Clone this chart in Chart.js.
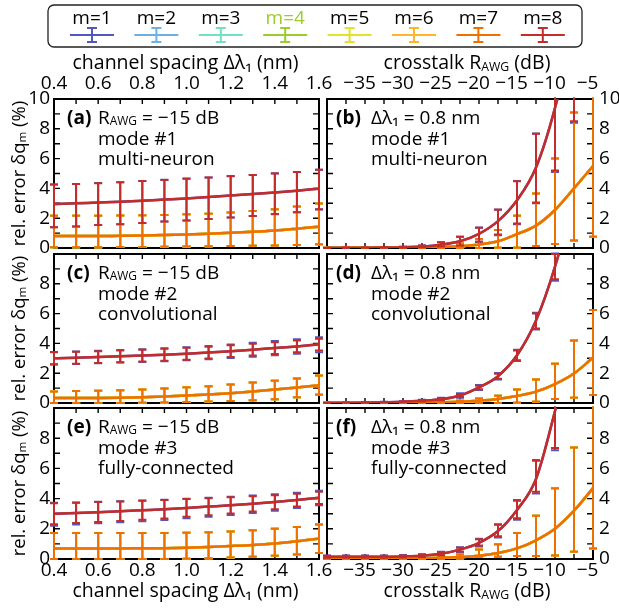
<!DOCTYPE html>
<html>
<head>
<meta charset="utf-8">
<script src="https://cdn.jsdelivr.net/npm/chart.js@4.4.1/dist/chart.umd.min.js"></script>
<style>
  html, body { margin: 0; padding: 0; background: #fff; }
  #wrap { position: relative; width: 619px; height: 608px; }
  #wrap canvas { position: absolute; left: 0; top: 0; }
</style>
</head>
<body>
<div id="wrap">
  <canvas id="pa" width="619" height="608"></canvas>
  <canvas id="pb" width="619" height="608"></canvas>
  <canvas id="pc" width="619" height="608"></canvas>
  <canvas id="pd" width="619" height="608"></canvas>
  <canvas id="pe" width="619" height="608"></canvas>
  <canvas id="pf" width="619" height="608"></canvas>
</div>
<script>
const seriesLabels = ['m=1', 'm=2', 'm=3', 'm=4', 'm=5', 'm=6', 'm=7', 'm=8'];
const seriesColors = ['#5257c0', '#6fb0e4', '#72e0c2', '#9ccc2c', '#e2e22a', '#ffb42c', '#ee7000', '#c42c2a'];

const spacingNm = [0.4, 0.5, 0.6, 0.7, 0.8, 0.9, 1.0, 1.1, 1.2, 1.3, 1.4, 1.5, 1.6];
const crosstalkDb = [-40, -37.5, -35, -32.5, -30, -27.5, -25, -22.5, -20, -17.5, -15, -12.5, -10, -7.5, -5];

// (a) mode #1, vs channel spacing. "edge" = m=1 & m=8, "inner" = m=2..7
const aEdge    = [2.95, 3.0, 3.05, 3.1, 3.17, 3.25, 3.33, 3.42, 3.52, 3.62, 3.73, 3.85, 3.98];
const aEdgeHi  = [4.27, 4.3, 4.35, 4.42, 4.5, 4.57, 4.65, 4.73, 4.82, 4.9, 5.0, 5.1, 5.25];
const aEdgeLo  = [1.4, 1.45, 1.55, 1.6, 1.68, 1.78, 1.85, 1.95, 2.05, 2.15, 2.28, 2.4, 2.6];
const aEdgeHi1 = [4.27, 4.3, 4.36, 4.42, 4.5, 4.58, 4.66, 4.73, 4.83, 4.9, 5.01, 5.1, 5.26];
const aEdgeLo1 = [1.39, 1.45, 1.54, 1.6, 1.67, 1.78, 1.84, 1.95, 2.04, 2.15, 2.27, 2.4, 2.59];
const aInner   = [0.8, 0.8, 0.8, 0.82, 0.84, 0.87, 0.91, 0.96, 1.02, 1.09, 1.18, 1.3, 1.43];
const aInnerHi = [2.17, 2.17, 2.17, 2.18, 2.2, 2.22, 2.26, 2.3, 2.38, 2.48, 2.6, 2.78, 2.98];
const aInnerLo = [0.05, 0.05, 0.05, 0.06, 0.07, 0.08, 0.1, 0.12, 0.13, 0.15, 0.17, 0.2, 0.25];

// (b) mode #1, vs crosstalk
const bEdge    = [0.01, 0.015, 0.02, 0.03, 0.05, 0.1, 0.22, 0.45, 0.95, 1.8, 3.2, 5.4, 9.4, 15, 24];
const bEdgeHi  = [0.02, 0.03, 0.04, 0.06, 0.09, 0.16, 0.38, 0.75, 1.36, 2.56, 4.48, 7.66, 14, 23, 35];
const bEdgeLo  = [0, 0.005, 0.01, 0.015, 0.025, 0.05, 0.1, 0.16, 0.44, 0.9, 1.65, 3.05, 5.2, 8.5, 14];
const bEdgeHi1 = [0.02, 0.03, 0.04, 0.06, 0.09, 0.16, 0.39, 0.76, 1.37, 2.58, 4.5, 7.68, 14.1, 23.2, 35.2];
const bEdgeLo1 = [0, 0, 0.005, 0.01, 0.02, 0.04, 0.09, 0.14, 0.41, 0.86, 1.6, 3.0, 5.1, 8.4, 13.8];
const bInner   = [0.005, 0.008, 0.01, 0.015, 0.02, 0.04, 0.06, 0.12, 0.23, 0.45, 0.93, 1.5, 2.55, 4.0, 5.5];
const bInnerHi = [0.01, 0.015, 0.02, 0.03, 0.04, 0.07, 0.12, 0.3, 0.6, 1.2, 2.17, 3.66, 6.0, 9.1, 12.5];
const bInnerLo = [0, 0, 0, 0, 0, 0, 0, 0, 0, 0.02, 0.02, 0.14, 0.27, 0.5, 0.75];

// (c) mode #2, vs channel spacing
const cEdge    = [3.0, 3.04, 3.08, 3.13, 3.18, 3.24, 3.31, 3.39, 3.48, 3.58, 3.69, 3.8, 3.93];
const cEdgeHi  = [3.4, 3.44, 3.48, 3.53, 3.58, 3.64, 3.7, 3.78, 3.87, 3.97, 4.08, 4.19, 4.32];
const cEdgeLo  = [2.6, 2.64, 2.68, 2.73, 2.78, 2.84, 2.91, 2.99, 3.08, 3.18, 3.29, 3.4, 3.52];
const cEdgeHi1 = [3.42, 3.46, 3.5, 3.55, 3.6, 3.67, 3.74, 3.83, 3.93, 4.04, 4.16, 4.28, 4.42];
const cEdgeLo1 = [2.58, 2.62, 2.66, 2.71, 2.75, 2.81, 2.87, 2.94, 3.02, 3.11, 3.2, 3.3, 3.4];
const cInner   = [0.33, 0.33, 0.34, 0.36, 0.39, 0.44, 0.5, 0.57, 0.66, 0.77, 0.9, 1.04, 1.2];
const cInnerHi = [0.78, 0.8, 0.82, 0.85, 0.9, 0.97, 1.05, 1.13, 1.25, 1.37, 1.5, 1.65, 1.85];
const cInnerLo = [0, 0, 0, 0, 0.02, 0.04, 0.07, 0.1, 0.14, 0.19, 0.25, 0.38, 0.55];

// (d) mode #2, vs crosstalk
const dEdge    = [0.01, 0.02, 0.03, 0.05, 0.08, 0.15, 0.25, 0.5, 1.05, 1.8, 3.2, 5.53, 9.15, 14, 21];
const dEdgeHi  = [0.02, 0.03, 0.05, 0.07, 0.1, 0.2, 0.32, 0.6, 1.15, 1.97, 3.53, 6.0, 10.0, 15.5, 23];
const dEdgeLo  = [0, 0.01, 0.02, 0.03, 0.05, 0.1, 0.18, 0.4, 0.93, 1.63, 2.87, 5.0, 8.3, 12.5, 19];
const dEdgeHi1 = [0.03, 0.04, 0.06, 0.08, 0.12, 0.22, 0.36, 0.65, 1.2, 2.02, 3.58, 6.06, 10.1, 15.6, 23.2];
const dEdgeLo1 = [0, 0, 0.01, 0.02, 0.04, 0.08, 0.14, 0.35, 0.88, 1.58, 2.82, 4.94, 8.2, 12.4, 18.8];
const dInner   = [0.005, 0.008, 0.01, 0.015, 0.02, 0.03, 0.05, 0.08, 0.15, 0.27, 0.47, 0.76, 1.27, 1.98, 3.05];
const dInnerHi = [0.01, 0.015, 0.02, 0.03, 0.04, 0.06, 0.1, 0.15, 0.3, 0.49, 0.91, 1.58, 2.64, 4.2, 6.24];
const dInnerLo = [0, 0, 0, 0, 0, 0, 0, 0, 0, 0, 0.02, 0.09, 0.27, 0.36, 0.53];

// (e) mode #3, vs channel spacing
const eEdge    = [3.0, 3.05, 3.1, 3.16, 3.23, 3.3, 3.38, 3.47, 3.56, 3.66, 3.77, 3.9, 4.05];
const eEdgeHi  = [3.7, 3.73, 3.77, 3.81, 3.86, 3.91, 3.97, 4.03, 4.09, 4.16, 4.23, 4.32, 4.46];
const eEdgeLo  = [2.3, 2.38, 2.45, 2.52, 2.6, 2.68, 2.8, 2.9, 3.02, 3.15, 3.3, 3.47, 3.65];
const eEdgeHi1 = [3.72, 3.75, 3.79, 3.83, 3.88, 3.93, 3.99, 4.05, 4.12, 4.2, 4.28, 4.38, 4.52];
const eEdgeLo1 = [2.2, 2.28, 2.36, 2.43, 2.5, 2.58, 2.7, 2.8, 2.92, 3.05, 3.2, 3.38, 3.56];
const eInner   = [0.7, 0.7, 0.7, 0.7, 0.71, 0.72, 0.75, 0.8, 0.86, 0.93, 1.03, 1.17, 1.35];
const eInnerHi = [1.72, 1.72, 1.72, 1.72, 1.72, 1.72, 1.74, 1.77, 1.82, 1.9, 2.0, 2.12, 2.29];
const eInnerLo = [0, 0, 0, 0, 0, 0, 0.02, 0.05, 0.1, 0.15, 0.22, 0.3, 0.4];

// (f) mode #3, vs crosstalk
const fEdge    = [0.15, 0.15, 0.15, 0.15, 0.17, 0.22, 0.35, 0.62, 1.07, 1.85, 3.25, 5.3, 9.8, 15, 22];
const fEdgeHi  = [0.22, 0.22, 0.22, 0.22, 0.24, 0.3, 0.45, 0.75, 1.3, 2.27, 3.86, 6.5, 12.4, 19, 28];
const fEdgeLo  = [0.08, 0.08, 0.08, 0.08, 0.1, 0.14, 0.25, 0.5, 0.9, 1.5, 2.7, 4.45, 7.35, 11, 16];
const fEdgeHi1 = [0.24, 0.24, 0.24, 0.24, 0.26, 0.32, 0.48, 0.78, 1.34, 2.3, 3.9, 6.55, 12.5, 19.2, 28.3];
const fEdgeLo1 = [0.06, 0.06, 0.06, 0.06, 0.08, 0.12, 0.22, 0.45, 0.82, 1.42, 2.6, 4.33, 7.2, 10.8, 15.7];
const fInner   = [0.01, 0.01, 0.015, 0.02, 0.03, 0.05, 0.08, 0.13, 0.22, 0.4, 0.7, 1.24, 2.0, 3.2, 4.69];
const fInnerHi = [0.02, 0.02, 0.03, 0.04, 0.06, 0.1, 0.15, 0.3, 0.63, 0.98, 1.72, 2.87, 4.69, 7.38, 11];
const fInnerLo = [0, 0, 0, 0, 0, 0, 0, 0, 0.15, 0.15, 0.2, 0.2, 0.24, 0.48, 0.7];

const FONT = '"Open Sans", "DejaVu Sans", sans-serif';
Chart.defaults.font.family = FONT;
Chart.defaults.color = '#000';

const W = 619, H = 608;
const colX = [[54, 319], [327, 593]];
const rowY = [[99, 248], [254, 403], [408, 559]];

const MINUS = '\u2212';
const rawgHead = [{ t: 'R' }, { t: 'AWG', sub: true }, { t: ' = ' + MINUS + '15 dB' }];
const dlHead = [{ t: '\u0394\u03bb\u2081 = 0.8 nm' }];

// box, inward ticks on all four sides
const framePlugin = {
  id: 'frame',
  beforeDatasetsDraw(chart) {
    const { ctx, chartArea: a, scales: { x, y } } = chart;
    ctx.save();
    ctx.strokeStyle = '#000';
    ctx.lineWidth = 1.4;
    ctx.beginPath();
    x.ticks.forEach(t => {
      const px = x.getPixelForValue(t.value);
      if (px <= a.left + 1 || px >= a.right - 1) return;
      ctx.moveTo(px, a.top); ctx.lineTo(px, a.top + 5);
      ctx.moveTo(px, a.bottom); ctx.lineTo(px, a.bottom - 5);
    });
    y.ticks.forEach(t => {
      const py = y.getPixelForValue(t.value);
      if (py <= a.top + 1 || py >= a.bottom - 1) return;
      ctx.moveTo(a.left, py); ctx.lineTo(a.left + 6, py);
      ctx.moveTo(a.right, py); ctx.lineTo(a.right - 6, py);
    });
    ctx.stroke();
    ctx.lineWidth = 2;
    ctx.strokeRect(a.left, a.top, a.right - a.left, a.bottom - a.top);
    ctx.restore();
  }
};

const errorBarPlugin = {
  id: 'errorBars',
  afterDatasetDraw(chart, args) {
    const ds = chart.data.datasets[args.index];
    if (!ds.lo) return;
    const { ctx, chartArea: a } = chart;
    const y = chart.scales.y;
    ctx.save();
    ctx.beginPath();
    ctx.rect(a.left - 8, a.top - 1.5, a.right - a.left + 16, a.bottom - a.top + 3);
    ctx.clip();
    ctx.strokeStyle = ds.borderColor;
    ctx.lineWidth = 2;
    ctx.beginPath();
    args.meta.data.forEach((pt, i) => {
      const top = y.getPixelForValue(ds.hi[i]);
      const bot = y.getPixelForValue(ds.lo[i]);
      ctx.moveTo(pt.x, top); ctx.lineTo(pt.x, bot);
      ctx.moveTo(pt.x - 4, top); ctx.lineTo(pt.x + 4, top);
      ctx.moveTo(pt.x - 4, bot); ctx.lineTo(pt.x + 4, bot);
    });
    ctx.stroke();
    ctx.restore();
  }
};

function drawRich(ctx, it) {
  const fontOf = p => (p.bold ? 'bold ' : '') + (p.sub ? it.size * 0.63 : it.size) + 'px ' + FONT;
  ctx.save();
  ctx.translate(it.x, it.y);
  if (it.rot) ctx.rotate(it.rot);
  ctx.fillStyle = '#000';
  ctx.textBaseline = 'alphabetic';
  ctx.textAlign = 'left';
  let total = 0;
  it.parts.forEach(p => { ctx.font = fontOf(p); total += ctx.measureText(p.t).width; });
  let x = it.align === 'center' ? -total / 2 : 0;
  it.parts.forEach(p => {
    ctx.font = fontOf(p);
    ctx.fillText(p.t, x, p.sub ? it.size * 0.08 : 0);
    x += ctx.measureText(p.t).width;
  });
  ctx.restore();
}

function textPlugin(items) {
  return { id: 'richText', afterDraw(chart) { items.forEach(it => drawRich(chart.ctx, it)); } };
}

const legendPlugin = {
  id: 'mLegend',
  afterDraw(chart) {
    const ctx = chart.ctx;
    ctx.save();
    ctx.strokeStyle = '#222';
    ctx.lineWidth = 1.3;
    ctx.beginPath();
    ctx.roundRect(48, 5, 534, 42, 6);
    ctx.stroke();
    chart.data.datasets.forEach((ds, k) => {
      const cx = 92 + k * 64.4;
      ctx.font = '19px ' + FONT;
      ctx.textAlign = 'center';
      ctx.textBaseline = 'alphabetic';
      ctx.fillStyle = k === 3 ? ds.borderColor : '#000';
      ctx.fillText(ds.label, cx, 24);
      ctx.strokeStyle = ds.borderColor;
      ctx.lineWidth = 2;
      ctx.beginPath();
      ctx.moveTo(cx - 22, 35); ctx.lineTo(cx + 22, 35);
      ctx.moveTo(cx, 28); ctx.lineTo(cx, 42);
      ctx.moveTo(cx - 5, 28); ctx.lineTo(cx + 5, 28);
      ctx.moveTo(cx - 5, 42); ctx.lineTo(cx + 5, 42);
      ctx.stroke();
    });
    ctx.restore();
  }
};

const fmtNm = v => (Math.round(v * 10) % 2 === 0 ? v.toFixed(1) : '');
const fmtDb = v => (Math.round(v * 2) % 10 === 0 && v > -40 ? MINUS + Math.abs(v) + '\u2007' : '');

const panels = [
  { id: 'pa', col: 0, row: 0, tag: '(a)', head: rawgHead, mode: 'mode #1', kind: 'multi-neuron',
    edge: aEdge, edgeHi: aEdgeHi, edgeLo: aEdgeLo, edgeHi1: aEdgeHi1, edgeLo1: aEdgeLo1, inner: aInner, innerHi: aInnerHi, innerLo: aInnerLo },
  { id: 'pb', col: 1, row: 0, tag: '(b)', head: dlHead, mode: 'mode #1', kind: 'multi-neuron',
    edge: bEdge, edgeHi: bEdgeHi, edgeLo: bEdgeLo, edgeHi1: bEdgeHi1, edgeLo1: bEdgeLo1, inner: bInner, innerHi: bInnerHi, innerLo: bInnerLo },
  { id: 'pc', col: 0, row: 1, tag: '(c)', head: rawgHead, mode: 'mode #2', kind: 'convolutional',
    edge: cEdge, edgeHi: cEdgeHi, edgeLo: cEdgeLo, edgeHi1: cEdgeHi1, edgeLo1: cEdgeLo1, inner: cInner, innerHi: cInnerHi, innerLo: cInnerLo },
  { id: 'pd', col: 1, row: 1, tag: '(d)', head: dlHead, mode: 'mode #2', kind: 'convolutional',
    edge: dEdge, edgeHi: dEdgeHi, edgeLo: dEdgeLo, edgeHi1: dEdgeHi1, edgeLo1: dEdgeLo1, inner: dInner, innerHi: dInnerHi, innerLo: dInnerLo },
  { id: 'pe', col: 0, row: 2, tag: '(e)', head: rawgHead, mode: 'mode #3', kind: 'fully-connected',
    edge: eEdge, edgeHi: eEdgeHi, edgeLo: eEdgeLo, edgeHi1: eEdgeHi1, edgeLo1: eEdgeLo1, inner: eInner, innerHi: eInnerHi, innerLo: eInnerLo },
  { id: 'pf', col: 1, row: 2, tag: '(f)', head: dlHead, mode: 'mode #3', kind: 'fully-connected',
    edge: fEdge, edgeHi: fEdgeHi, edgeLo: fEdgeLo, edgeHi1: fEdgeHi1, edgeLo1: fEdgeLo1, inner: fInner, innerHi: fInnerHi, innerLo: fInnerLo }
];

function makeChart(p) {
  const [x0, x1] = colX[p.col];
  const [y0, y1] = rowY[p.row];
  const left = p.col === 0;
  const xs = left ? spacingNm : crosstalkDb;
  const last = seriesLabels.length - 1;

  const datasets = seriesLabels.map((label, k) => {
    const isEdge = k === 0 || k === last;
    const mean = isEdge ? p.edge : p.inner;
    const lo = k === 0 ? p.edgeLo1 : (isEdge ? p.edgeLo : p.innerLo);
    const hi = k === 0 ? p.edgeHi1 : (isEdge ? p.edgeHi : p.innerHi);
    return {
      label,
      order: last - k,            // m=8 drawn last (on top)
      data: xs.map((x, i) => ({ x, y: mean[i] })),
      lo, hi,
      borderColor: seriesColors[k],
      backgroundColor: seriesColors[k],
      borderWidth: 2.5,
      pointRadius: 0,
      fill: false,
      cubicInterpolationMode: 'monotone'
    };
  });

  const texts = [];
  const base = [y0 + 24.5, y0 + 45.5, y0 + 66];
  texts.push({ x: x0 + (left ? 13 : 9), y: base[0], size: 19, parts: [{ t: p.tag, bold: true }] });
  texts.push({ x: x0 + 44, y: base[0], size: 19, parts: p.head });
  texts.push({ x: x0 + 44, y: base[1], size: 19, parts: [{ t: p.mode }] });
  texts.push({ x: x0 + 44, y: base[2], size: 19, parts: [{ t: p.kind }] });
  const titleParts = left
    ? [{ t: 'channel spacing \u0394\u03bb\u2081 (nm)' }]
    : [{ t: 'crosstalk R' }, { t: 'AWG', sub: true }, { t: ' (dB)' }];
  const tcx = (x0 + x1) / 2 + (left ? -1 : 7);
  if (p.row === 0) texts.push({ x: tcx, y: 69, size: 19.5, align: 'center', parts: titleParts });
  if (p.row === 2) texts.push({ x: tcx, y: 597, size: 19.5, align: 'center', parts: titleParts });
  if (left) {
    texts.push({ x: 25, y: (y0 + y1) / 2, size: 18.5, rot: -Math.PI / 2, align: 'center',
      parts: [{ t: 'rel. error \u03b4q' }, { t: 'm', sub: true }, { t: ' (%)' }] });
  }

  const plugins = [framePlugin, errorBarPlugin, textPlugin(texts)];
  if (p.id === 'pa') plugins.push(legendPlugin);

  // axis boxes sized so the plot area lands at (x0..x1, y0..y1)
  const yAxisW = left ? x0 : W - x1;
  const xAxisH = p.row === 0 ? 27 : (p.row === 2 ? H - y1 : 0);
  const pad = {
    left: left ? 0 : x0,
    right: left ? W - x1 : 0,
    top: p.row === 0 ? y0 - xAxisH : y0,
    bottom: p.row === 2 ? 0 : H - y1
  };

  return new Chart(document.getElementById(p.id), {
    type: 'line',
    data: { datasets },
    options: {
      responsive: false,
      animation: false,
      events: [],
      layout: { padding: pad },
      plugins: { legend: { display: false }, tooltip: { enabled: false } },
      scales: {
        x: {
          type: 'linear',
          position: p.row === 0 ? 'top' : 'bottom',
          min: xs[0],
          max: xs[xs.length - 1],
          grid: { display: false, drawTicks: false },
          border: { display: false },
          ticks: {
            display: p.row !== 1,
            stepSize: left ? 0.1 : 2.5,
            autoSkip: false,
            maxRotation: 0,
            padding: p.row === 0 ? 4 : 0,
            font: { size: 19 },
            color: '#000',
            callback: left ? fmtNm : fmtDb
          },
          afterFit: s => { s.height = xAxisH; }
        },
        y: {
          type: 'linear',
          position: left ? 'left' : 'right',
          min: 0,
          max: 10,
          grid: { display: false, drawTicks: false },
          border: { display: false },
          ticks: {
            stepSize: 1,
            autoSkip: false,
            padding: left ? 4 : 6,
            font: { size: 19 },
            color: '#000',
            callback: v => (v % 2 === 0 && (p.row === 0 || v < 10) ? String(v) : '')
          },
          afterFit: s => { s.width = yAxisW; }
        }
      }
    },
    plugins
  });
}

panels.forEach(makeChart);
</script>
</body>
</html>
